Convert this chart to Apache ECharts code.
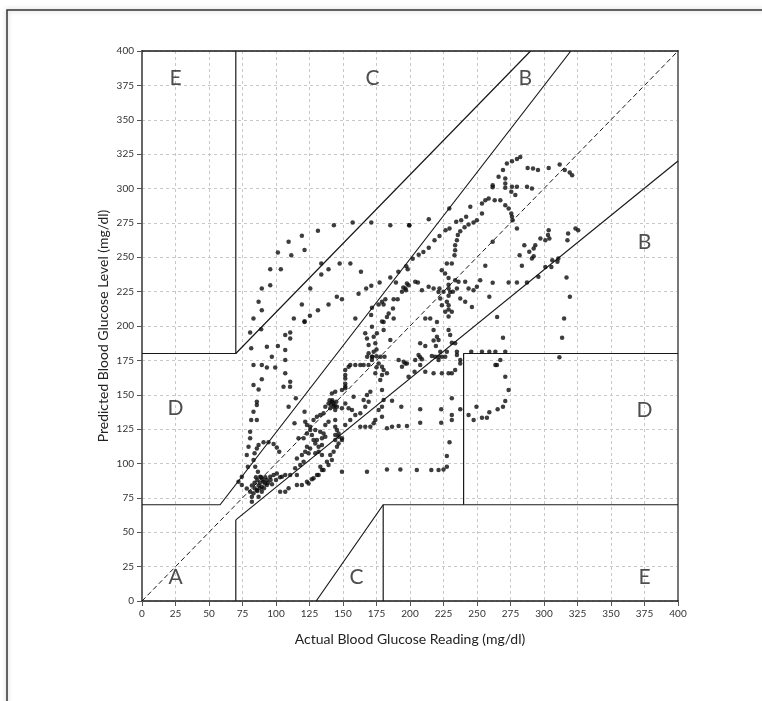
<!DOCTYPE html>
<html>
<head>
<meta charset="utf-8">
<script src="https://cdn.jsdelivr.net/npm/echarts@6/dist/echarts.min.js"></script>
<style>
html, body { margin: 0; padding: 0; background: #fff; }
#grid { width: 762px; height: 701px; }
</style>
</head>
<body>
<div id="grid"></div>
<script>
/* axis range */
var axisMin = 0;
var axisMax = 400;
var axisStep = 25;

/* [actual, predicted] readings */
var glucosePoints = [
	[83.2,205.4],[87,217.6],[89.4,211.5],[89.4,227.3],[95.7,229.7],[95.7,241.3],[103.6,241.3],[101.4,253.5],[111.4,251.5],[109.4,261.2],
	[119.3,265.6],[121.3,255.2],[131.3,269.2],[143.2,273.3],[157.2,275.3],[171.1,275.3],[185.3,273.3],[199.5,273.3],[133.8,245.5],[133.8,237.5],
	[139.2,241.3],[147.5,245.5],[155.5,245.5],[163.4,239.4],[125.6,227.3],[119.3,215.6],[113.3,205.4],[121.3,203.5],[125.3,207.4],[131.3,211.5],
	[139.2,215.6],[145.4,221.2],[149.2,219.5],[159.2,205.4],[161.6,223.4],[167.3,227.3],[171.1,229.2],[177.3,231.6],[185.3,235.3],[191.3,239.4],
	[197.2,243.5],[189.5,231.6],[195,228],[197,226],[199,229.7],[179.1,217.6],[181.6,219.5],[180.3,215.6],[176.6,215.6],[187.8,219.5],
	[190.8,219.5],[194,225],[196.5,227.3],[184.1,209.1],[187.3,212.7],[182.8,206.6],[180.3,203],[187.8,205.4],[171.6,213.2],[171,208],
	[282.3,323],[279.8,321.4],[276.1,319.9],[272.3,318.2],[269.4,313.4],[266.1,308.5],[271.1,307.3],[261.7,302.4],[261.7,301],[271.1,303.7],
	[271.1,300.5],[276.1,301.2],[279.8,301.2],[275.6,297.6],[278.6,295.2],[287.3,301.2],[291,300],[287.8,315],[291.8,314.6],[295.5,313.4],
	[303.5,315],[311.7,317.5],[315.5,313.4],[319.2,311.7],[321,309.7],[258.7,292.7],[256.2,291.5],[253.7,289.1],[263.2,291.5],[267.4,291.5],
	[271.1,287.9],[273.6,285.5],[275.6,281.8],[276.1,279.4],[276.6,277],[279.8,270.9],[253.7,281.8],[249.9,277],[247.4,275.3],[243.7,273.8],
	[240.7,271.9],[237.5,269],[235.7,266.1],[235,262.4],[233.7,258.8],[233.7,255.1],[233.2,251.5],[231.2,245.4],[227.5,245.4],[223.7,240.6],
	[226.2,238.2],[245,286.7],[241.9,279.4],[238.2,277],[234.5,275.8],[229.5,270.9],[226.5,269.6],[222,265.5],[218.3,262.4],[214,257],
	[210,253.9],[206.5,251.9],[202,249],[198.3,241.3],[229.3,285.5],[214,277.7],[199.4,273.3],[261.7,261.2],[256.2,243.8],[261.7,231.4],
	[303.5,269.7],[303,266.1],[304,263.7],[301,262.4],[297.3,263.7],[293.5,258.8],[292.3,256.4],[289,254],[292.3,250.8],[291,249.1],
	[285.3,258.8],[281.8,251.5],[283.5,243.8],[287.3,231.6],[279.8,231.6],[273.6,231.6],[318,267.3],[317.5,262.4],[323.5,270.9],[325.5,269.7],
	[310.7,249.1],[310,246.7],[306.2,247.9],[301,243],[305.5,243],[295.8,235.8],[316.8,235.3],[319.3,221.2],[315,205.4],[265,206.6],
	[259.2,221.2],[197.7,230.9],[203.9,232.1],[205.9,231.6],[208.9,226],[213.9,228.5],[217.6,227.3],[221.3,224.8],[222.6,220],[223.8,215.1],
	[226.3,210.3],[228.8,227.3],[230,224.8],[227.5,217.6],[228.8,215.1],[231.2,210.3],[233.7,233.3],[236.2,232.1],[241.2,232.1],[243.7,227.3],
	[247.4,226],[252.4,233.3],[249.9,228.5],[237.5,220],[241.2,217.6],[246.2,213.9],[211.4,205.4],[215.1,205.4],[220.1,203],[228.8,235],
	[228.8,230],[228.8,222],[228.8,212],[228.8,207],[225,225],[232,225],[235,227.3],[222,227.3],
	[80.7,195.2],[88.9,197.6],[106.9,193.5],[110.6,195.2],[110.6,191],[121.3,203],[93.2,185],[101.4,185.5],[81.5,183.8],[96.9,177.7],
	[106.9,182.5],[106.9,175.3],[83.2,171.6],[93.2,169.9],[99.4,169.9],[89.4,171.6],[106.9,165.6],[110.6,159.5],[89.4,161.2],[83.2,157.1],
	[87,153.9],[105.6,155.9],[110.5,155.9],[114.8,147.4],[85.7,145],[85.7,142.5],[83.2,137.7],[109.4,141.3],[121.3,137.7],[81.5,131.6],
	[85.7,131.6],[80.7,123.1],[80.7,118.3],[113.8,129.2],
	[87,113.4],[90.7,115.4],[94.4,115.4],[98.2,114.2],[100.6,111.7],[102.4,108.6],[85.7,111],[84,107.4],[83.2,102.5],[84.5,97.7],
	[86.5,94],[88.2,90.4],[79.5,112.2],[78.2,106.2],[79,97.7],[74.5,90.4],[72,86.8],[74.5,84.3],[78.2,81.9],[80.7,79.5],
	[82,75.8],[82,72.2],[83.2,78.3],[85.7,80.7],[89.4,83.1],[91.9,85.5],[93.2,88],[95.7,90.4],[98.2,91.6],[100.6,92.8],
	[90.7,86.8],[93.2,84.3],[89.4,79.5],[87,75.8],[84,86],[86,88],[88,86],[87,84],[90,88],[92,90],
	[86,80],[84,82],[88,82],[94,86],[96,88],[91,82],[82,84],[85,90],[89,90],[100,88],
	[103,90],[97,85],[103.1,79.5],[106.9,79.5],[109.4,82],[115.6,84.3],[119.3,84.3],[123.1,86.8],[126.8,88.5],[130.6,91.6],
	[133.1,97.7],[134.3,95.2],[115.6,91.6],[114.3,96.5],[118.1,98.9],[120.6,101.3],[106.9,91.6],[110.6,91.6],[104.4,90.4],
	[115.6,103.7],[119.3,106.2],[121.8,108.6],[124.3,107.4],[125.5,111],[123.1,112.2],[116.8,118.3],[120.6,118.3],[123.1,121.9],[125.5,124.3],
	[129.3,124.3],[133,123.1],[135.5,121.9],[136.8,119.5],[134.3,118.3],[130.5,117.1],[129.3,114.6],[131.8,112.2],[134.3,113.4],[128,117.1],
	[126.8,120.7],[123.1,128],[121.8,130.4],[125.5,126.8],[128,131.6],[130.5,134],[133,135.3],[135.5,136.5],[136.8,141.3],[139.2,143.7],
	[141.7,145],[143,141.3],[140.5,140.1],[144.2,138.9],[145.5,141.3],[141.7,151],[144.2,152.2],[149.2,153.4],[151.7,154.7],[151.7,161.9],
	[151.7,164.4],[154.2,170.4],[155.4,171.6],[159.2,171.6],[162.9,171.6],[165.4,171.6],[169.1,171.6],[171.6,177.7],[172.9,181.3],[174.1,187.4],
	[172.9,192.2],[175.3,194.7],[167.9,191],[166.6,194.7],[169.1,186.2],[169.1,180.1],[171.6,175.3],[176.6,172.8],[179.1,170.4],[180.3,168],
	[182.8,165.6],[179.1,164.4],[174.1,165.6],[177.8,160.7],[179.1,153.4],[180.3,146.2],[179.1,141.3],[176.6,138.9],[179.1,134],[174.1,131.6],
	[170.4,126.8],[166.6,126.8],[162.9,126.8],[172.9,129.2],[182.8,125.6],[186.6,126.8],[191.5,127.3],[186.6,145.7],[193.5,141.3],[194,170.4],
	[196.5,172.8],[195.3,174],[191.5,175.3],[185.3,189.8],[180.3,197.1],[144.2,131.6],[144.2,126.8],[145.5,124.3],[144.2,120.7],[146.7,119.5],
	[144.2,117.1],[149.2,117.1],[146.7,121.9],[151.7,128],[155.4,131.6],[159.2,135.3],[162.9,136.5],[166.6,141.3],[169.1,145],[167.9,149.8],
	[170.4,152.2],[165.4,146.2],[157.9,148.6],[156.7,138.9],[154.2,140.1],[151.7,143.7],[149.2,140.1],[139.2,130.4],[136.8,128],[131.8,108.6],
	[129.3,107.4],[134.3,106.2],[138,101.3],[140.5,106.2],[143,108.6],[145.5,112.2],[146.7,114.6],[149.2,118.3],[141.7,102.5],[139.2,98.9],
	[135.5,95.2],[131.8,91.6],[128,89.2],[124.3,85.5],[149.2,94],[167.9,94],[182.8,95.7],[192.8,95.7],
	[175,183],[175,178],[172,177.7],[178,177.7],[181,177.7],[168,177.7],[175,170],[141,143],[143,144],[142,146],
	[144,142],[140,146],[145,145],[151.7,158],[151.7,168],[151.7,156],[171.6,199.5],[179.1,203.2],
	[207.6,187.4],[211.4,185.5],[217.6,189.4],[219.3,185.5],[217.6,197.1],[220.1,192.2],[221.3,189.8],[228.8,197.1],[230,193.5],[231.2,187.9],
	[233.7,187.4],[227.5,181.3],[235,181.3],[235,178.9],[237.5,175.3],[237.5,172.8],[206.4,178.9],[207.6,177.2],[208.9,175.8],[207.6,171.6],
	[216.3,178.2],[218.8,177.7],[221.3,177.7],[223.8,177.7],[222.6,181.3],[226.3,177.7],[221.3,175.3],[211.4,166.8],[217.6,165.6],[223.8,165.6],
	[228.8,165.6],[231.2,165.6],[233.7,168],[203.4,166.8],[198.9,163.1],[197.7,172.8],[203.9,175.3],
	[245.7,181.3],[253.7,181.3],[259.2,181.3],[263.7,181.3],[271.1,181.3],[269.4,191.5],[313.5,191.5],[311.5,177.2],[267.4,175.3],[264.9,171.6],
	[263.7,171.6],[271.1,163.1],[273.6,153.4],[271.1,145.4],[269.4,141.3],[265.4,139.4],[259.2,137.2],[257.4,133.3],[253.7,133.3],[247.5,131.6],
	[243.7,135.3],[249.6,141.3],[237.5,139.4],[231.2,147.4],[231.2,135.3],[231.2,131.6],[223.3,139.4],[223.3,129.7],[207.6,139.4],[207.6,129.7],
	[197.7,127.3],[229.5,115.4],[227.5,105.4],[227.5,97.7],[225,95.7],[221.3,95.2],[215.9,95.2],[205.1,95.2]
];

/* Clarke zone boundaries */
var zoneLines = [
	[[0,70],[58.3,70],[320,400]],
	[[70,59],[400,320]],
	[[70,0],[70,59]],
	[[0,180],[70,180],[290,400]],
	[[70,180],[70,400]],
	[[240,70],[240,180],[400,180]],
	[[130,0],[180,70],[400,70]],
	[[180,0],[180,70]]
];
var identityLine = [[0,0],[400,400]];

/* zone letters */
var zoneLabels = [
	[25,380,'E'],[172,380,'C'],[286,380,'B'],
	[25,140,'D'],[375,261,'B'],[375,139,'D'],
	[25,17,'A'],[160,17,'C'],[375,17,'E']
];

var fontName = 'Lato';

var chartDom = document.getElementById('grid');
var myChart = echarts.init(chartDom);

var series = [];

zoneLines.forEach(function(seg){
	series.push({
		type: 'line',
		data: seg,
		symbol: 'none',
		silent: true,
		lineStyle: { color: '#1a1a1a', width: 1.2 },
		z: 3
	});
});

series.push({
	type: 'line',
	data: identityLine,
	symbol: 'none',
	silent: true,
	lineStyle: { color: '#1a1a1a', width: 1, type: [5, 3] },
	z: 3
});

series.push({
	type: 'scatter',
	data: glucosePoints,
	symbol: 'circle',
	symbolSize: 4.5,
	itemStyle: { color: '#0d0d0d' },
	z: 4
});

series.push({
	type: 'scatter',
	data: zoneLabels,
	symbolSize: 1,
	itemStyle: { color: 'rgba(0,0,0,0)' },
	label: {
		show: true,
		position: 'inside',
		formatter: function(p){ return p.value[2]; },
		fontFamily: fontName,
		fontSize: 21,
		color: '#222'
	},
	silent: true,
	z: 5
});

var option = {
	animation: false,
	backgroundColor: '#fff',
	grid: { left: 142, right: 84, top: 51, bottom: 100 },
	xAxis: [{
		type: 'value',
		min: axisMin, max: axisMax, interval: axisStep,
		name: 'Actual Blood Glucose Reading (mg/dl)',
		nameLocation: 'middle',
		nameGap: 31,
		nameTextStyle: { fontFamily: fontName, fontSize: 14, color: '#222' },
		axisLine: { lineStyle: { color: '#1a1a1a', width: 1.5 } },
		axisTick: { inside: false, length: 5, lineStyle: { color: '#555' } },
		axisLabel: { fontFamily: fontName, fontSize: 10, color: '#333', margin: 8 },
		splitLine: { show: true, lineStyle: { color: '#c8c8c8', type: [3, 3] } }
	}, {
		type: 'value',
		position: 'top',
		min: axisMin, max: axisMax,
		axisLine: { show: true, onZero: false, lineStyle: { color: '#1a1a1a', width: 1.5 } },
		axisTick: { show: false },
		axisLabel: { show: false },
		splitLine: { show: false }
	}],
	yAxis: [{
		type: 'value',
		min: axisMin, max: axisMax, interval: axisStep,
		name: 'Predicted Blood Glucose Level (mg/dl)',
		nameLocation: 'middle',
		nameGap: 32,
		nameMoveOverlap: false,
		nameTextStyle: { fontFamily: fontName, fontSize: 14, color: '#222' },
		axisLine: { show: true, lineStyle: { color: '#666', width: 2 } },
		axisTick: { show: true, inside: false, length: 5, lineStyle: { color: '#555' } },
		axisLabel: { fontFamily: fontName, fontSize: 10, color: '#333', margin: 8 },
		splitLine: { show: true, lineStyle: { color: '#c8c8c8', type: [3, 3] } }
	}, {
		type: 'value',
		position: 'right',
		min: axisMin, max: axisMax,
		axisLine: { show: true, onZero: false, lineStyle: { color: '#777', width: 2 } },
		axisTick: { show: false },
		axisLabel: { show: false },
		splitLine: { show: false }
	}],
	graphic: [{
		type: 'rect',
		shape: { x: 7, y: 10, width: 820, height: 760 },
		style: { fill: 'none', stroke: '#333', lineWidth: 1.5, shadowBlur: 5, shadowColor: 'rgba(0,0,0,0.25)' },
		silent: true,
		z: -1
	}],
	series: series
};

myChart.setOption(option);
</script>
</body>
</html>
